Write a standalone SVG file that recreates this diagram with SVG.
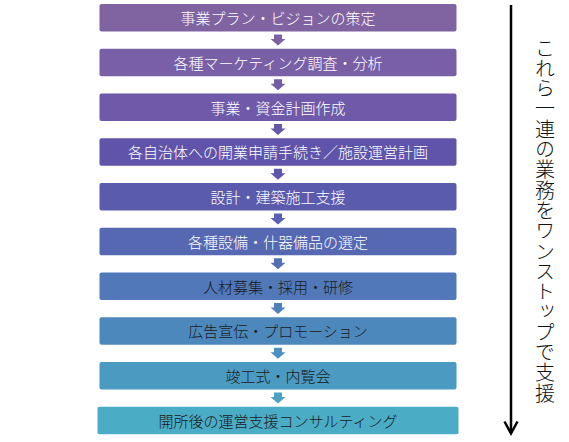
<svg xmlns="http://www.w3.org/2000/svg" width="569" height="442" viewBox="0 0 569 442">
<style>
.box{stroke:none}
.lbl{font-family:"Noto Sans CJK JP","Noto Sans CJK SC",sans-serif;font-size:15px;font-weight:300;text-anchor:middle;dominant-baseline:central}
.w{fill:#ffffff}
.d{fill:#1a1a1a}
.vt{font-family:"Noto Sans CJK JP","Noto Sans CJK SC",sans-serif;font-size:20px;font-weight:300;fill:#111;writing-mode:vertical-rl;letter-spacing:0.3px}
</style>
<rect width="569" height="442" fill="#ffffff"/>
<g id="connectors">
<path d="M274,34.5h8v4.5h3.5l-7.5,6.5l-7.5,-6.5h3.5z" fill="#7C62A4"/>
<path d="M274,79.2h8v4.5h3.5l-7.5,6.5l-7.5,-6.5h3.5z" fill="#745DA7"/>
<path d="M274,124h8v4.5h3.5l-7.5,6.5l-7.5,-6.5h3.5z" fill="#6657A9"/>
<path d="M274,168.7h8v4.5h3.5l-7.5,6.5l-7.5,-6.5h3.5z" fill="#5D56AC"/>
<path d="M274,213.5h8v4.5h3.5l-7.5,6.5l-7.5,-6.5h3.5z" fill="#5961B0"/>
<path d="M274,258.2h8v4.5h3.5l-7.5,6.5l-7.5,-6.5h3.5z" fill="#5370B5"/>
<path d="M274,303h8v4.5h3.5l-7.5,6.5l-7.5,-6.5h3.5z" fill="#4F80BA"/>
<path d="M274,347.7h8v4.5h3.5l-7.5,6.5l-7.5,-6.5h3.5z" fill="#4B91BF"/>
<path d="M274,392.5h8v4.5h3.5l-7.5,6.5l-7.5,-6.5h3.5z" fill="#4AA3C4"/>
<line x1="511" y1="5" x2="511" y2="433" stroke="#000" stroke-width="2.5"/>
<polyline points="504.5,421.5 511,433.5 517.5,421.5" fill="none" stroke="#000" stroke-width="2.5"/>
</g>
<g id="n1"><rect class="box" x="99.5" y="4" width="357" height="27.5" rx="2" fill="#8064A2"/><text class="lbl w" x="278" y="17.5">事業プラン・ビジョンの策定</text></g>
<g id="n2"><rect class="box" x="99.5" y="48.75" width="357" height="27.5" rx="2" fill="#795FA6"/><text class="lbl w" x="278" y="62.25">各種マーケティング調査・分析</text></g>
<g id="n3"><rect class="box" x="99.5" y="93.5" width="357" height="27.5" rx="2" fill="#6E5AA8"/><text class="lbl w" x="278" y="107">事業・資金計画作成</text></g>
<g id="n4"><rect class="box" x="99.5" y="138.25" width="357" height="27.5" rx="2" fill="#6054AA"/><text class="lbl w" x="278" y="151.75">各自治体への開業申請手続き／施設運営計画</text></g>
<g id="n5"><rect class="box" x="99.5" y="183" width="357" height="27.5" rx="2" fill="#5B5BAE"/><text class="lbl w" x="278" y="196.5">設計・建築施工支援</text></g>
<g id="n6"><rect class="box" x="99.5" y="227.75" width="357" height="27.5" rx="2" fill="#5668B2"/><text class="lbl w" x="278" y="241.25">各種設備・什器備品の選定</text></g>
<g id="n7"><rect class="box" x="99.5" y="272.5" width="357" height="27.5" rx="2" fill="#5178B8"/><text class="lbl d" x="278" y="286">人材募集・採用・研修</text></g>
<g id="n8"><rect class="box" x="99.5" y="317.25" width="357" height="27.5" rx="2" fill="#4D88BC"/><text class="lbl d" x="278" y="330.75">広告宣伝・プロモーション</text></g>
<g id="n9"><rect class="box" x="99.5" y="362" width="357" height="27.5" rx="2" fill="#4A9AC2"/><text class="lbl d" x="278" y="375.5">竣工式・内覧会</text></g>
<g id="n10"><rect class="box" x="97.5" y="406.75" width="361" height="27.5" rx="2" fill="#4BACC6"/><text class="lbl d" x="278" y="420.25">開所後の運営支援コンサルティング</text></g>
<g id="side"><text class="vt" x="545" y="38">これら一連の業務をワンストップで支援</text></g>
</svg>
